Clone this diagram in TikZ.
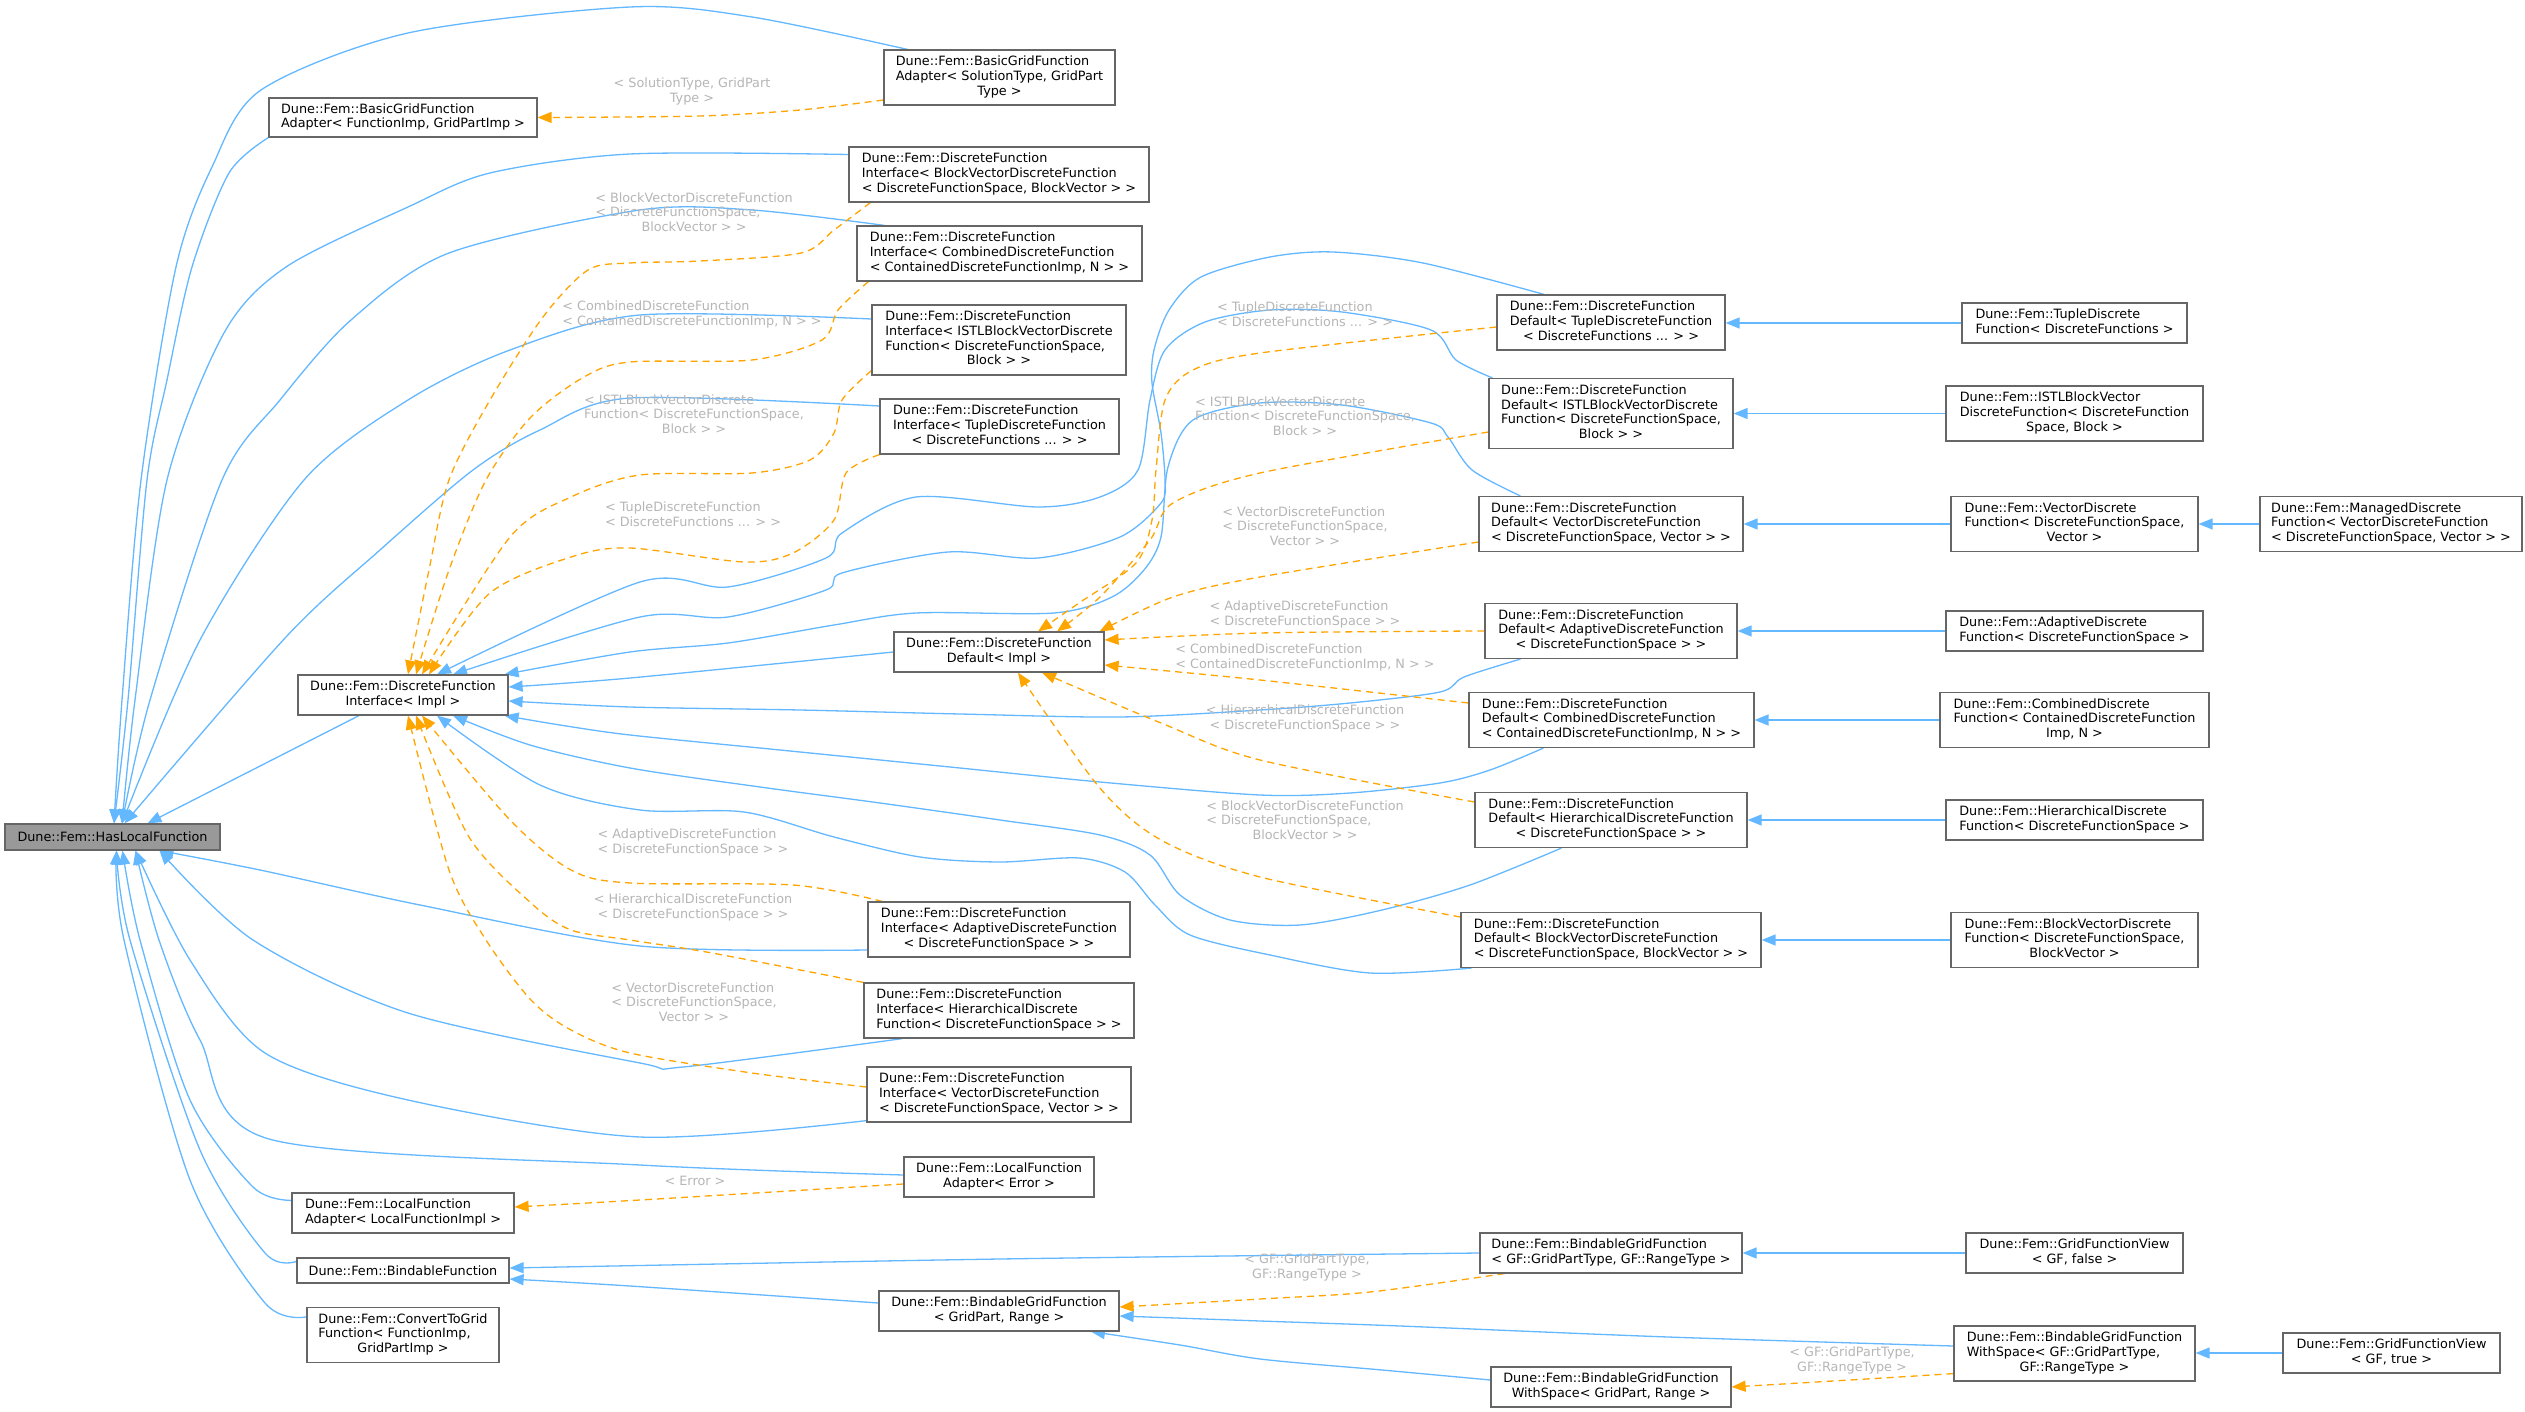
\documentclass[tikz,border=0pt]{standalone}
\usepackage{fontspec}
\newfontfamily\dv{DejaVu Sans}
\usetikzlibrary{arrows.meta}
\definecolor{eblue}{HTML}{63B8FF}
\definecolor{eorange}{HTML}{FFA500}
\definecolor{nborder}{HTML}{666666}
\definecolor{hlfill}{HTML}{999999}
\definecolor{lblgray}{HTML}{B6B6B6}
\newcommand\tl[2]{\begin{tabular}{@{}l@{}}#1\\\multicolumn{1}{@{}c@{}}{#2}\end{tabular}}
\pgfdeclarelayer{back}\pgfdeclarelayer{bg}\pgfsetlayers{back,bg,main}
\begin{document}
\begin{tikzpicture}[x=1pt,y=-1pt,
  nbox/.style={draw=nborder, fill=white, line width=1.2pt, inner sep=0pt, font=\dv\fontsize{12.8pt}{14.7pt}\selectfont},
  elbl/.style={text=lblgray, inner sep=0pt, font=\dv\fontsize{12.8pt}{14.7pt}\selectfont},
  inh/.style={draw=eblue, line width=1.3pt, -{Triangle[length=14pt,width=11pt]}},
  tmpl/.style={draw=eorange, line width=1.3pt, dash pattern=on 7pt off 5pt, -{Triangle[length=14pt,width=11pt]}}]
\useasboundingbox (0,0) rectangle (2525,1412);
\begin{pgfonlayer}{back}
\fill[white] (0,0) rectangle (2525,1412);
\end{pgfonlayer}
% ---------- nodes
\node[nbox,fill=hlfill,minimum width=215pt,minimum height=26pt] (hlf) at (112.5,837) {Dune::Fem::HasLocalFunction};
\node[nbox,minimum width=268pt,minimum height=39pt] (bgfa1) at (403,117.5) {\tl{Dune::Fem::BasicGridFunction}{Adapter< FunctionImp, GridPartImp >}};
\node[nbox,minimum width=231pt,minimum height=55pt] (bgfa2) at (999.5,77.5) {\tl{Dune::Fem::BasicGridFunction\\Adapter< SolutionType, GridPart}{Type >}};
\node[nbox,minimum width=300pt,minimum height=55pt] (dfiBV) at (999,174.5) {\tl{Dune::Fem::DiscreteFunction\\Interface< BlockVectorDiscreteFunction}{< DiscreteFunctionSpace, BlockVector > >}};
\node[nbox,minimum width=285pt,minimum height=55pt] (dfiComb) at (999.5,253.5) {\tl{Dune::Fem::DiscreteFunction\\Interface< CombinedDiscreteFunction}{< ContainedDiscreteFunctionImp, N > >}};
\node[nbox,minimum width=254pt,minimum height=70pt] (dfiISTL) at (999,340) {\tl{Dune::Fem::DiscreteFunction\\Interface< ISTLBlockVectorDiscrete\\Function< DiscreteFunctionSpace,}{Block > >}};
\node[nbox,minimum width=239pt,minimum height=55pt] (dfiTuple) at (999.5,426.5) {\tl{Dune::Fem::DiscreteFunction\\Interface< TupleDiscreteFunction}{< DiscreteFunctions ... > >}};
\node[nbox,minimum width=210pt,minimum height=40pt] (dfiImpl) at (403,695) {\tl{Dune::Fem::DiscreteFunction}{Interface< Impl >}};
\node[nbox,minimum width=210pt,minimum height=40pt] (dfdImpl) at (999,652) {\tl{Dune::Fem::DiscreteFunction}{Default< Impl >}};
\node[nbox,minimum width=228pt,minimum height=55pt] (dfdTuple) at (1611,322.5) {\tl{Dune::Fem::DiscreteFunction\\Default< TupleDiscreteFunction}{< DiscreteFunctions ... > >}};
\node[nbox,minimum width=244pt,minimum height=70pt] (dfdISTL) at (1611,413.5) {\tl{Dune::Fem::DiscreteFunction\\Default< ISTLBlockVectorDiscrete\\Function< DiscreteFunctionSpace,}{Block > >}};
\node[nbox,minimum width=264pt,minimum height=55pt] (dfdVec) at (1611,524) {\tl{Dune::Fem::DiscreteFunction\\Default< VectorDiscreteFunction}{< DiscreteFunctionSpace, Vector > >}};
\node[nbox,minimum width=252pt,minimum height=55pt] (dfdAdapt) at (1611,631) {\tl{Dune::Fem::DiscreteFunction\\Default< AdaptiveDiscreteFunction}{< DiscreteFunctionSpace > >}};
\node[nbox,minimum width=285pt,minimum height=55pt] (dfdComb) at (1611.5,720) {\tl{Dune::Fem::DiscreteFunction\\Default< CombinedDiscreteFunction}{< ContainedDiscreteFunctionImp, N > >}};
\node[nbox,minimum width=272pt,minimum height=55pt] (dfdHier) at (1611,820) {\tl{Dune::Fem::DiscreteFunction\\Default< HierarchicalDiscreteFunction}{< DiscreteFunctionSpace > >}};
\node[nbox,minimum width=300pt,minimum height=55pt] (dfdBV) at (1611,940) {\tl{Dune::Fem::DiscreteFunction\\Default< BlockVectorDiscreteFunction}{< DiscreteFunctionSpace, BlockVector > >}};
\node[nbox,minimum width=225pt,minimum height=40pt] (tuple) at (2074.5,323) {\tl{Dune::Fem::TupleDiscrete}{Function< DiscreteFunctions >}};
\node[nbox,minimum width=257pt,minimum height=55pt] (istl) at (2074.5,413.5) {\tl{Dune::Fem::ISTLBlockVector\\DiscreteFunction< DiscreteFunction}{Space, Block >}};
\node[nbox,minimum width=247pt,minimum height=55pt] (vec) at (2074.5,524) {\tl{Dune::Fem::VectorDiscrete\\Function< DiscreteFunctionSpace,}{Vector >}};
\node[nbox,minimum width=262pt,minimum height=55pt] (managed) at (2391,524) {\tl{Dune::Fem::ManagedDiscrete\\Function< VectorDiscreteFunction}{< DiscreteFunctionSpace, Vector > >}};
\node[nbox,minimum width=257pt,minimum height=40pt] (adapt) at (2074.5,631) {\tl{Dune::Fem::AdaptiveDiscrete}{Function< DiscreteFunctionSpace >}};
\node[nbox,minimum width=269pt,minimum height=55pt] (comb) at (2074.5,720) {\tl{Dune::Fem::CombinedDiscrete\\Function< ContainedDiscreteFunction}{Imp, N >}};
\node[nbox,minimum width=257pt,minimum height=40pt] (hier) at (2074.5,820) {\tl{Dune::Fem::HierarchicalDiscrete}{Function< DiscreteFunctionSpace >}};
\node[nbox,minimum width=247pt,minimum height=55pt] (bv) at (2074.5,940) {\tl{Dune::Fem::BlockVectorDiscrete\\Function< DiscreteFunctionSpace,}{BlockVector >}};
\node[nbox,minimum width=262pt,minimum height=55pt] (dfiAdapt) at (999,929.5) {\tl{Dune::Fem::DiscreteFunction\\Interface< AdaptiveDiscreteFunction}{< DiscreteFunctionSpace > >}};
\node[nbox,minimum width=270pt,minimum height=55pt] (dfiHier) at (999,1010.5) {\tl{Dune::Fem::DiscreteFunction\\Interface< HierarchicalDiscrete}{Function< DiscreteFunctionSpace > >}};
\node[nbox,minimum width=264pt,minimum height=55pt] (dfiVec) at (999,1094.5) {\tl{Dune::Fem::DiscreteFunction\\Interface< VectorDiscreteFunction}{< DiscreteFunctionSpace, Vector > >}};
\node[nbox,minimum width=190pt,minimum height=40pt] (lfaErr) at (999,1177) {\tl{Dune::Fem::LocalFunction}{Adapter< Error >}};
\node[nbox,minimum width=222pt,minimum height=40pt] (lfaImpl) at (403,1213) {\tl{Dune::Fem::LocalFunction}{Adapter< LocalFunctionImpl >}};
\node[nbox,minimum width=212pt,minimum height=25pt] (bindable) at (403,1270.5) {Dune::Fem::BindableFunction};
\node[nbox,minimum width=192pt,minimum height=55pt] (convert) at (403,1335) {\tl{Dune::Fem::ConvertToGrid\\Function< FunctionImp,}{GridPartImp >}};
\node[nbox,minimum width=240pt,minimum height=40pt] (bgfGP) at (999,1311) {\tl{Dune::Fem::BindableGridFunction}{< GridPart, Range >}};
\node[nbox,minimum width=262pt,minimum height=40pt] (bgfGF) at (1611,1253) {\tl{Dune::Fem::BindableGridFunction}{< GF::GridPartType, GF::RangeType >}};
\node[nbox,minimum width=217pt,minimum height=40pt] (gfvFalse) at (2074.5,1253) {\tl{Dune::Fem::GridFunctionView}{< GF, false >}};
\node[nbox,minimum width=240pt,minimum height=40pt] (bgfwsGP) at (1611,1387) {\tl{Dune::Fem::BindableGridFunction}{WithSpace< GridPart, Range >}};
\node[nbox,minimum width=241pt,minimum height=55pt] (bgfwsGF) at (2074.5,1353.5) {\tl{Dune::Fem::BindableGridFunction\\WithSpace< GF::GridPartType,}{GF::RangeType >}};
\node[nbox,minimum width=217pt,minimum height=40pt] (gfvTrue) at (2391.5,1353) {\tl{Dune::Fem::GridFunctionView}{< GF, true >}};
% ---------- edge labels
\node[elbl] (lSol) at (692,92) {\tl{< SolutionType, GridPart}{Type >}};
\node[elbl] (lIBV) at (694,214) {\tl{< BlockVectorDiscreteFunction\\< DiscreteFunctionSpace,}{BlockVector > >}};
\node[elbl] (lIComb) at (692,315) {\tl{< CombinedDiscreteFunction}{< ContainedDiscreteFunctionImp, N > >}};
\node[elbl] (lIISTL) at (694,416) {\tl{< ISTLBlockVectorDiscrete\\Function< DiscreteFunctionSpace,}{Block > >}};
\node[elbl] (lITup) at (693,516) {\tl{< TupleDiscreteFunction}{< DiscreteFunctions ... > >}};
\node[elbl] (lIAd) at (693,843) {\tl{< AdaptiveDiscreteFunction}{< DiscreteFunctionSpace > >}};
\node[elbl] (lIHi) at (693,908) {\tl{< HierarchicalDiscreteFunction}{< DiscreteFunctionSpace > >}};
\node[elbl] (lIVe) at (694,1004) {\tl{< VectorDiscreteFunction\\< DiscreteFunctionSpace,}{Vector > >}};
\node[elbl] (lDTup) at (1305,316) {\tl{< TupleDiscreteFunction}{< DiscreteFunctions ... > >}};
\node[elbl] (lDISTL) at (1305,418) {\tl{< ISTLBlockVectorDiscrete\\Function< DiscreteFunctionSpace,}{Block > >}};
\node[elbl] (lDVe) at (1305,528) {\tl{< VectorDiscreteFunction\\< DiscreteFunctionSpace,}{Vector > >}};
\node[elbl] (lDAd) at (1305,615) {\tl{< AdaptiveDiscreteFunction}{< DiscreteFunctionSpace > >}};
\node[elbl] (lDComb) at (1305,658) {\tl{< CombinedDiscreteFunction}{< ContainedDiscreteFunctionImp, N > >}};
\node[elbl] (lDHi) at (1305,719) {\tl{< HierarchicalDiscreteFunction}{< DiscreteFunctionSpace > >}};
\node[elbl] (lDBV) at (1305,822) {\tl{< BlockVectorDiscreteFunction\\< DiscreteFunctionSpace,}{BlockVector > >}};
\node[elbl] (lErr) at (695,1181) {< Error >};
\node[elbl] (lGF1) at (1307,1268) {\tl{< GF::GridPartType,}{GF::RangeType >}};
\node[elbl] (lGF2) at (1852,1361) {\tl{< GF::GridPartType,}{GF::RangeType >}};
% ---------- connectors
\begin{pgfonlayer}{bg}
% into HasLocalFunction (top)
\draw[inh] plot[smooth,tension=0.5] coordinates {([xshift=24pt]bgfa2.north west) (752,17) (630,7) (408,33) (261,90) (212,167) (176,267) (141,480) (122,700) ([xshift=1.5pt]hlf.north)};
\draw[inh] plot[smooth,tension=0.5] coordinates {(bgfa1.south west) (229,173) (192,267) (167,380) (147,480) (128,700) ([xshift=1.5pt]hlf.north)};
\draw[inh] plot[smooth,tension=0.5] coordinates {([yshift=20pt]dfiBV.west) (630,154) (490,173) (408,207) (286,267) (224,333) (167,480) (135,700) ([xshift=9.5pt]hlf.north)};
\draw[inh] plot[smooth,tension=0.5] coordinates {([xshift=28pt]dfiComb.north west) (752,210) (640,210) (449,253) (351,320) (280,400) (222,480) (150,700) ([xshift=9.5pt]hlf.north)};
\draw[inh] plot[smooth,tension=0.5] coordinates {([yshift=21pt]dfiISTL.west) (640,315) (510,350) (408,400) (304,480) (200,640) ([xshift=9.5pt]hlf.north)};
\draw[inh] plot[smooth,tension=0.5] coordinates {([yshift=20.5pt]dfiTuple.west) (630,398) (540,430) (473,470) (380,550) (286,637) ([xshift=12pt]hlf.north)};
\draw[inh] ([xshift=-44pt]dfiImpl.south) -- ([xshift=35pt]hlf.north);
% into HasLocalFunction (bottom)
\draw[inh] plot[smooth,tension=0.5] coordinates {([yshift=-20.5pt]dfiAdapt.west) (640,946) (420,905) (260,870) ([xshift=47pt]hlf.south)};
\draw[inh] plot[smooth,tension=0.5] coordinates {([xshift=39pt]dfiHier.south west) (683,1067) (640,1063) (408,1013) (253,940) ([xshift=47pt]hlf.south)};
\draw[inh] plot[smooth,tension=0.5] coordinates {([yshift=2pt]dfiVec.south west) (640,1137) (408,1100) (265,1053) (190,960) ([xshift=23pt]hlf.south)};
\draw[inh] plot[smooth,tension=0.5] coordinates {([yshift=2pt]lfaErr.west) (640,1165) (269,1139) (200,1040) (159,940) ([xshift=23pt]hlf.south)};
\draw[inh] plot[smooth,tension=0.5] coordinates {([yshift=-8pt]lfaImpl.north west) (253,1187) (190,1100) (140,940) ([xshift=10pt]hlf.south)};
\draw[inh] plot[smooth,tension=0.5] coordinates {([yshift=-4pt]bindable.north west) (265,1253) (200,1150) (130,940) ([xshift=4pt]hlf.south)};
\draw[inh] plot[smooth,tension=0.5] coordinates {([yshift=-10pt]convert.north west) (265,1303) (190,1180) (124,940) ([xshift=4pt]hlf.south)};
% into DiscreteFunctionInterface<Impl> (blue)
\draw[inh] plot[smooth,tension=0.5] coordinates {([xshift=4pt]dfdISTL.north west) (1456,360) (1431,330) (1342,312) (1270,310) (1205,322) (1165,350) (1150,400) (1138,470) (1100,497) (1038,507) (916,497) (842,533) (826,558) (728,587) (640,582) ([xshift=34pt]dfiImpl.north)};
\draw[inh] plot[smooth,tension=0.5] coordinates {([xshift=-67pt]dfdTuple.north) (1423,263) (1333,252) (1270,257) (1201,277) (1169,310) (1154,350) (1152,383) (1161,433) (1165,480) (1161,503) (1120,537) (1038,558) (948,552) (842,573) (826,590) (728,617) (640,617) ([xshift=50pt]dfiImpl.north)};
\draw[inh] plot[smooth,tension=0.5] coordinates {([xshift=42pt]dfdVec.north west) (1472,470) (1448,437) (1431,423) (1342,405) (1260,403) (1193,420) (1168,467) (1161,537) (1144,570) (1112,597) (1054,613) (916,613) (834,625) (728,643) (630,652) ([xshift=-4pt]dfiImpl.north east)};
\draw[inh] plot[smooth,tension=0.5] coordinates {(dfdImpl.west) (630,678) ([yshift=8pt]dfiImpl.east)};
\draw[inh] plot[smooth,tension=0.5] coordinates {([xshift=36pt]dfdAdapt.south west) (1464,677) (1440,692) (1350,703) (1260,710) (1120,717) (960,714) (800,710) (630,707) ([yshift=-6pt]dfiImpl.east)};
\draw[inh] plot[smooth,tension=0.5] coordinates {([xshift=75pt]dfdComb.south west) (1490,770) (1440,783) (1350,793) (1260,795) (1100,782) (940,766) (780,750) (630,735) (560,725) ([xshift=-4pt]dfiImpl.south east)};
\draw[inh] plot[smooth,tension=0.5] coordinates {([xshift=87pt]dfdHier.south west) (1470,885) (1382,910) (1300,925) (1230,920) (1180,895) (1150,855) (1100,835) (1000,820) (880,803) (760,787) (630,768) (530,745) ([xshift=50pt]dfiImpl.south)};
\draw[inh] plot[smooth,tension=0.5] coordinates {([xshift=11pt]dfdBV.south west) (1370,973) (1270,955) (1190,935) (1155,905) (1125,872) (1079,858) (1000,862) (920,857) (834,837) (744,812) (640,810) (540,785) ([xshift=34pt]dfiImpl.south)};
% into DiscreteFunctionDefault<Impl> (orange)
\draw[tmpl] plot[smooth,tension=0.5] coordinates {([yshift=-4.5pt]dfdTuple.west) (1260,353) (1193,370) (1165,400) (1156,470) (1152,520) (1136,563) (1079,603) ([xshift=39pt]dfdImpl.north)};
\draw[tmpl] plot[smooth,tension=0.5] coordinates {([yshift=-18.5pt]dfdISTL.west) (1260,473) (1173,503) (1150,540) (1100,597) ([xshift=58pt]dfdImpl.north)};
\draw[tmpl] plot[smooth,tension=0.5] coordinates {([yshift=-18pt]dfdVec.west) (1260,577) (1173,597) ([xshift=-5pt]dfdImpl.north east)};
\draw[tmpl] plot[smooth,tension=0.5] coordinates {(dfdAdapt.west) (1260,633) ([yshift=12pt]dfdImpl.east)};
\draw[tmpl] plot[smooth,tension=0.5] coordinates {([yshift=17pt]dfdComb.west) (1260,680) ([yshift=-13pt]dfdImpl.east)};
\draw[tmpl] plot[smooth,tension=0.5] coordinates {([yshift=18pt]dfdHier.west) (1260,760) (1161,723) ([xshift=43pt]dfdImpl.south)};
\draw[tmpl] plot[smooth,tension=0.5] coordinates {([yshift=23pt]dfdBV.west) (1260,877) (1161,840) (1099,787) ([xshift=19pt]dfdImpl.south)};
% into DiscreteFunctionInterface<Impl> (orange)
\draw[tmpl] plot[smooth,tension=0.5] coordinates {([xshift=22pt]dfiBV.south west) (834,230) (801,253) (700,261) (630,263) (588,270) (543,317) (490,400) (449,480) (429,570) ([xshift=5pt]dfiImpl.north)};
\draw[tmpl] plot[smooth,tension=0.5] coordinates {([xshift=12pt]dfiComb.south west) (838,310) (822,340) (752,360) (630,362) (584,377) (531,417) (486,480) (449,570) ([xshift=13pt]dfiImpl.north)};
\draw[tmpl] plot[smooth,tension=0.5] coordinates {([yshift=5pt]dfiISTL.south west) (842,400) (834,433) (810,460) (752,473) (640,475) (571,497) (510,537) ([xshift=19pt]dfiImpl.north)};
\draw[tmpl] plot[smooth,tension=0.5] coordinates {(dfiTuple.south west) (846,473) (834,520) (793,553) (744,562) (630,548) (571,557) (490,593) ([xshift=26pt]dfiImpl.north)};
\draw[tmpl] plot[smooth,tension=0.5] coordinates {([xshift=15pt]dfiAdapt.north west) (793,885) (630,883) (571,870) (510,820) ([xshift=19pt]dfiImpl.south)};
\draw[tmpl] plot[smooth,tension=0.5] coordinates {(dfiHier.north west) (712,953) (630,940) (571,930) (531,903) (469,837) ([xshift=13pt]dfiImpl.south)};
\draw[tmpl] plot[smooth,tension=0.5] coordinates {([yshift=7.5pt]dfiVec.west) (752,1073) (630,1053) (571,1030) (531,1000) (486,940) (449,870) ([xshift=5pt]dfiImpl.south)};
% other templates
\draw[tmpl] plot[smooth,tension=0.5] coordinates {([yshift=-22.5pt]bgfa2.west) (800,110) (700,116) (bgfa1.east)};
\draw[tmpl] plot[smooth,tension=0.5] coordinates {([yshift=-7pt]lfaErr.west) (640,1200) ([yshift=6pt]lfaImpl.east)};
% right column inheritance
\draw[inh] (tuple.west) -- (tuple.west -| dfdTuple.east);
\draw[inh] (istl.west) -- (istl.west -| dfdISTL.east);
\draw[inh] (vec.west) -- (vec.west -| dfdVec.east);
\draw[inh] (managed.west) -- (managed.west -| vec.east);
\draw[inh] (adapt.west) -- (adapt.west -| dfdAdapt.east);
\draw[inh] (comb.west) -- (comb.west -| dfdComb.east);
\draw[inh] (hier.west) -- (hier.west -| dfdHier.east);
\draw[inh] (bv.west) -- (bv.west -| dfdBV.east);
\draw[inh] (gfvFalse.west) -- (gfvFalse.west -| bgfGF.east);
\draw[inh] (gfvTrue.west) -- (gfvTrue.west -| bgfwsGF.east);
% bindable group
\draw[inh] plot[smooth,tension=0.5] coordinates {(bgfGF.west) (1000,1259) ([yshift=2.5pt]bindable.east)};
\draw[inh] plot[smooth,tension=0.5] coordinates {([yshift=8pt]bgfGP.west) (630,1286) ([yshift=-8.5pt]bindable.east)};
\draw[tmpl] plot[smooth,tension=0.5] coordinates {([xshift=25pt]bgfGF.south west) (1370,1292) (1260,1299) ([yshift=4pt]bgfGP.east)};
\draw[inh] plot[smooth,tension=0.5] coordinates {([yshift=7.5pt]bgfwsGF.west) (1668,1337) (1400,1326) (1260,1321) ([yshift=-5pt]bgfGP.east)};
\draw[inh] plot[smooth,tension=0.5] coordinates {([yshift=7pt]bgfwsGP.west) (1382,1370) (1260,1359) (1180,1345) ([xshift=92pt]bgfGP.south)};
\draw[tmpl] plot[smooth,tension=0.5] coordinates {([yshift=8pt]bgfwsGF.south west) (1850,1380) (bgfwsGP.east)};
\end{pgfonlayer}
\end{tikzpicture}
\end{document}
